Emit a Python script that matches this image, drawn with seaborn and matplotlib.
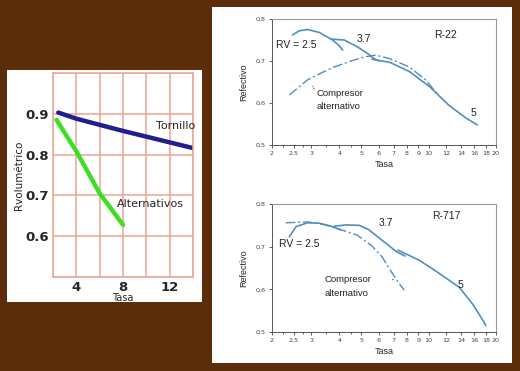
import matplotlib
matplotlib.use("Agg")
import matplotlib.pyplot as plt
from matplotlib.patches import Rectangle
from matplotlib.ticker import NullFormatter
import pandas as pd
import seaborn as sns

# ---- datos panel izquierdo (Rvolumétrico vs Tasa) ----
tornillo_x = [2.45, 4, 6, 8, 10, 12, 14]
tornillo_y = [0.903, 0.888, 0.873, 0.858, 0.844, 0.830, 0.816]
altern_x = [2.3, 4, 6, 8]
altern_y = [0.885, 0.808, 0.705, 0.628]

# ---- datos R-22 ----
r22_rv25_x = [2.47, 2.65, 2.88, 3.25, 3.73, 4.0, 4.13]
r22_rv25_y = [0.762, 0.772, 0.775, 0.768, 0.750, 0.736, 0.726]
r22_rv37_x = [3.67, 4.2, 4.8, 5.34, 5.7, 6.0]
r22_rv37_y = [0.752, 0.750, 0.734, 0.718, 0.706, 0.700]
r22_rv5_x = [5.6, 6.7, 8.2, 10.1, 12.3, 14.7, 16.5]
r22_rv5_y = [0.704, 0.697, 0.675, 0.639, 0.595, 0.564, 0.548]
r22_comp_x = [2.39, 2.88, 3.67, 4.5, 5.2, 5.8, 6.67, 8.2, 9.7, 10.9]
r22_comp_y = [0.619, 0.655, 0.683, 0.700, 0.710, 0.714, 0.706, 0.686, 0.655, 0.623]

# ---- datos R-717 ----
r717_rv25_x = [2.39, 2.56, 2.88, 3.25, 3.67, 4.06]
r717_rv25_y = [0.723, 0.747, 0.756, 0.755, 0.748, 0.739]
r717_rv37_x = [3.79, 4.3, 4.9, 5.4, 6.2, 7.2, 7.85]
r717_rv37_y = [0.748, 0.751, 0.750, 0.740, 0.715, 0.688, 0.678]
r717_rv5_x = [7.3, 9.1, 10.9, 13.7, 15.7, 17.7, 18.0]
r717_rv5_y = [0.692, 0.668, 0.641, 0.605, 0.566, 0.523, 0.515]
r717_comp_x = [2.3, 2.9, 3.4, 3.9, 4.8, 5.55, 6.2, 6.9, 7.5, 7.8]
r717_comp_y = [0.756, 0.758, 0.752, 0.743, 0.727, 0.703, 0.676, 0.637, 0.609, 0.598]

tasa_ticks = [2, 2.5, 3, 4, 5, 6, 7, 8, 9, 10, 12, 14, 16, 18, 20]
ref_ticks = [0.5, 0.6, 0.7, 0.8]
ref_labels = ["0,5", "0,6", "0,7", "0,8"]

sns.set_theme(style="white")
plt.rcParams["font.family"] = ["DejaVu Sans"]

brown = "#5b2d0b"
azul = "#4f8fc0"
rojo = "#e9a594"

fig = plt.figure(figsize=(5.2, 3.71), dpi=100)
fig.patch.set_facecolor(brown)
fig.patches.append(Rectangle((7 / 520, 69 / 371), 195 / 520, 232 / 371,
                             transform=fig.transFigure, facecolor="white",
                             edgecolor="none", zorder=-10))
fig.patches.append(Rectangle((212 / 520, 8 / 371), 300 / 520, 356 / 371,
                             transform=fig.transFigure, facecolor="white",
                             edgecolor="none", zorder=-10))

# ---------------- panel izquierdo ----------------
ax1 = fig.add_axes([53 / 520, 94 / 371, 140 / 520, 204 / 371])
ax1.set_facecolor("white")
sns.lineplot(x=tornillo_x, y=tornillo_y, ax=ax1, color="#1f1f90", lw=3.2, sort=False)
sns.lineplot(x=altern_x, y=altern_y, ax=ax1, color="#3ddf22", lw=3.2, sort=False)
ax1.set_xlim(2, 14)
ax1.set_ylim(0.5, 1.0)
ax1.set_xticks([4, 8, 12])
ax1.set_xticks([2, 6, 10, 14], minor=True)
ax1.set_yticks([0.6, 0.7, 0.8, 0.9])
ax1.set_yticks([0.5, 1.0], minor=True)
ax1.grid(True, which="both", color=rojo, lw=1.1)
ax1.set_axisbelow(True)
for s in ax1.spines.values():
    s.set_color(rojo)
    s.set_linewidth(1.1)
ax1.tick_params(length=0, pad=3, labelsize=9.5)
for lab in ax1.get_xticklabels() + ax1.get_yticklabels():
    lab.set_fontweight("bold")
ax1.set_xlabel("Tasa", fontsize=7, labelpad=-1)
ax1.set_ylabel("Rvolumétrico", fontsize=7.5, labelpad=1)
ax1.text(10.8, 0.862, "Tornillo", fontsize=8)
ax1.text(7.5, 0.672, "Alternativos", fontsize=8)


def panel_derecho(ax, curvas, comp_x, comp_y, xlabels):
    for cx, cy in curvas:
        sns.lineplot(x=cx, y=cy, ax=ax, color=azul, lw=1.2, sort=False)
    sns.lineplot(x=comp_x, y=comp_y, ax=ax, color=azul, lw=1.0, sort=False,
                 linestyle=(0, (7, 2, 1.5, 2)))
    ax.set_facecolor("white")
    ax.set_xscale("log")
    ax.set_xlim(2, 20)
    ax.set_ylim(0.5, 0.8)
    ax.set_xticks(tasa_ticks, xlabels)
    ax.set_xticks([2.25, 2.75, 3.5, 4.5], minor=True)
    ax.xaxis.set_minor_formatter(NullFormatter())
    ax.set_yticks(ref_ticks, ref_labels)
    ax.tick_params(axis="both", which="both", direction="out", length=2.5,
                   width=0.6, labelsize=4.6, pad=2, colors="#444444",
                   bottom=True, left=True)
    ax.tick_params(which="minor", length=1.5)
    for side in ["top", "right"]:
        ax.spines[side].set_color("#999999")
        ax.spines[side].set_linewidth(0.8)
    for side in ["left", "bottom"]:
        ax.spines[side].set_color("#555555")
        ax.spines[side].set_linewidth(0.7)
    ax.set_xlabel("Tasa", fontsize=6.5, family="Liberation Sans", labelpad=3)
    ax.set_ylabel("Refectivo", fontsize=6.5, family="Liberation Sans", labelpad=5)


# ---------------- R-22 ----------------
ax2 = fig.add_axes([272 / 520, 226 / 371, 224 / 520, 126 / 371])
panel_derecho(ax2, [(r22_rv25_x, r22_rv25_y), (r22_rv37_x, r22_rv37_y),
                    (r22_rv5_x, r22_rv5_y)],
              r22_comp_x, r22_comp_y,
              [str(t) for t in tasa_ticks])
tf = dict(fontsize=7.5, family="Liberation Sans", color="#222222")
ax2.text(2.09, 0.738, "RV = 2.5", va="center", **tf)
ax2.text(4.76, 0.752, "3.7", va="center", **tf)
ax2.text(10.6, 0.763, "R-22", va="center", **tf)
ax2.text(15.4, 0.577, "5", va="center", **tf)
ax2.text(3.15, 0.622, "Compresor", va="center", fontsize=6.8,
         family="Liberation Sans", color="#222222")
ax2.text(3.15, 0.592, "alternativo", va="center", fontsize=6.8,
         family="Liberation Sans", color="#222222")
ax2.annotate("", xy=(3.0, 0.646), xytext=(3.13, 0.628),
             arrowprops=dict(arrowstyle="-", color="#555555", lw=0.7, ls=":"))

# ---------------- R-717 ----------------
ax3 = fig.add_axes([272 / 520, 39 / 371, 224 / 520, 128 / 371])
panel_derecho(ax3, [(r717_rv25_x, r717_rv25_y), (r717_rv37_x, r717_rv37_y),
                    (r717_rv5_x, r717_rv5_y)],
              r717_comp_x, r717_comp_y,
              [str(t).replace(".", ",") for t in tasa_ticks])
ax3.text(2.15, 0.707, "RV = 2.5", va="center", **tf)
ax3.text(6.0, 0.755, "3.7", va="center", **tf)
ax3.text(10.4, 0.771, "R-717", va="center", **tf)
ax3.text(13.5, 0.609, "5", va="center", **tf)
ax3.text(3.42, 0.622, "Compresor", va="center", fontsize=6.8,
         family="Liberation Sans", color="#222222")
ax3.text(3.42, 0.590, "alternativo", va="center", fontsize=6.8,
         family="Liberation Sans", color="#222222")
ax3.annotate("", xy=(7.1, 0.628), xytext=(6.75, 0.618),
             arrowprops=dict(arrowstyle="-", color="#555555", lw=0.7))

fig.savefig("out.png", dpi=100, facecolor=fig.get_facecolor())
